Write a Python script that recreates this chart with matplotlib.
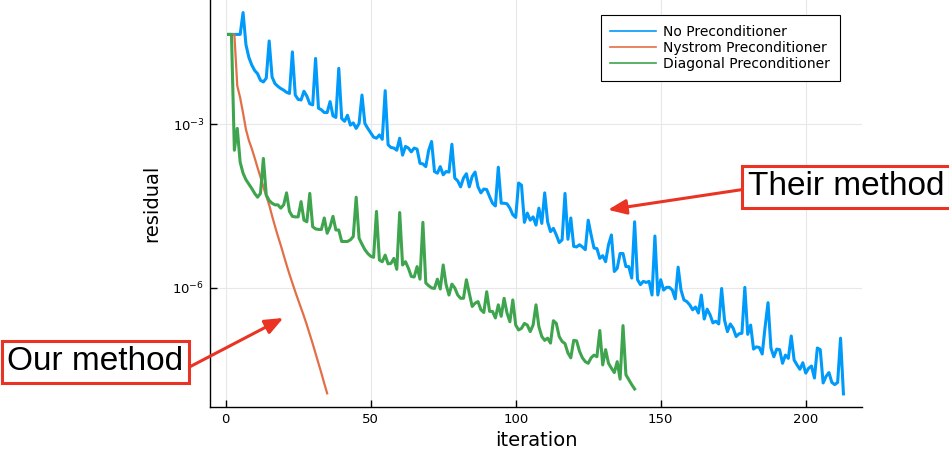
import numpy as np
import matplotlib.pyplot as plt

# log10 of the residual at every iteration, iterations counted from 1
log_res_none = [
    -1.36, -1.36, -1.36, -1.36, -1.36, -0.96, -1.55, -1.78, -1.92, -2.02,
    -2.08, -2.20, -2.23, -2.16, -1.48, -2.14, -2.26, -2.31, -2.35, -2.38,
    -2.42, -2.44, -1.68, -2.47, -2.55, -2.56, -2.40, -2.49, -2.63, -2.65,
    -1.80, -2.71, -2.74, -2.79, -2.79, -2.59, -2.85, -2.88, -1.98, -2.90,
    -2.95, -2.84, -3.02, -2.98, -3.08, -2.99, -2.47, -2.99, -3.08, -3.16,
    -3.24, -3.26, -3.20, -3.28, -2.39, -3.38, -3.43, -3.44, -3.48, -3.26,
    -3.57, -3.41, -3.44, -3.51, -3.44, -3.46, -3.72, -3.73, -3.78, -3.48,
    -3.32, -3.87, -3.90, -3.78, -3.93, -3.87, -3.88, -3.37, -3.99, -4.04,
    -4.15, -3.99, -3.91, -4.15, -3.96, -3.88, -4.15, -4.26, -4.19, -4.20,
    -4.33, -4.45, -4.50, -3.79, -4.45, -4.45, -4.46, -4.54, -4.66, -4.71,
    -4.08, -4.12, -4.80, -4.63, -4.76, -4.70, -4.85, -4.54, -4.82, -4.26,
    -4.79, -4.97, -4.91, -5.03, -5.17, -5.12, -4.27, -5.11, -4.72, -5.24,
    -5.25, -5.21, -5.25, -5.30, -4.76, -5.03, -5.27, -5.28, -5.46, -5.41,
    -5.52, -5.21, -5.03, -5.70, -5.64, -5.37, -5.37, -5.61, -5.61, -5.82,
    -4.79, -5.85, -5.94, -5.88, -5.90, -5.88, -6.13, -5.05, -6.13, -5.85,
    -6.04, -5.99, -5.99, -6.04, -6.20, -5.62, -6.04, -6.22, -6.25, -6.31,
    -6.40, -6.35, -6.46, -6.13, -6.57, -6.39, -6.49, -6.64, -6.61, -6.66,
    -6.01, -6.59, -6.80, -6.66, -6.74, -6.89, -6.84, -6.83, -5.99, -6.85,
    -6.68, -7.12, -7.08, -7.09, -7.21, -6.71, -6.27, -7.10, -7.26, -7.12,
    -7.13, -7.38, -7.23, -7.29, -6.88, -7.32, -7.41, -7.49, -7.37, -7.56,
    -7.47, -7.43, -7.65, -7.10, -7.13, -7.74, -7.62, -7.55, -7.73, -7.77,
    -7.73, -6.92, -7.94,
]
log_res_nystrom = [
    -1.36, -1.36, -1.36, -2.30, -2.52, -2.80, -3.10, -3.30, -3.45, -3.62,
    -3.80, -3.97, -4.15, -4.32, -4.48, -4.68, -4.87, -5.05, -5.22, -5.40,
    -5.58, -5.75, -5.91, -6.07, -6.22, -6.37, -6.52, -6.68, -6.85, -7.02,
    -7.20, -7.38, -7.56, -7.75, -7.93,
]
log_res_diag = [
    -1.36, -1.36, -3.48, -3.08, -3.70, -3.90, -4.02, -4.10, -4.18, -4.27,
    -4.34, -4.27, -3.63, -4.30, -4.40, -4.45, -4.48, -4.48, -4.54, -4.48,
    -4.26, -4.60, -4.69, -4.70, -4.70, -4.42, -4.76, -4.79, -4.27, -4.88,
    -4.92, -4.93, -4.93, -4.72, -5.00, -4.88, -4.69, -4.94, -4.94, -5.15,
    -5.15, -5.15, -5.12, -5.06, -4.34, -5.09, -5.20, -5.30, -5.37, -5.42,
    -5.44, -4.60, -5.49, -5.52, -5.40, -5.56, -5.55, -5.46, -5.66, -4.62,
    -5.58, -5.52, -5.64, -5.79, -5.80, -5.61, -5.84, -4.80, -5.91, -5.96,
    -6.00, -6.01, -5.84, -6.02, -5.58, -5.94, -6.13, -5.93, -6.00, -6.13,
    -6.19, -6.19, -5.85, -6.10, -6.34, -6.28, -6.25, -6.40, -6.45, -6.07,
    -6.43, -6.43, -6.55, -6.31, -6.52, -6.19, -6.46, -6.62, -6.22, -6.68,
    -6.77, -6.74, -6.65, -6.68, -6.80, -6.68, -6.31, -6.71, -6.89, -6.96,
    -6.92, -7.01, -6.60, -6.65, -6.89, -6.98, -7.02, -7.19, -7.28, -6.96,
    -6.97, -7.16, -7.28, -7.35, -7.38, -7.28, -7.23, -7.26, -6.78, -7.41,
    -7.13, -7.38, -7.47, -7.55, -7.35, -7.67, -6.69, -7.59, -7.68, -7.77,
    -7.85,
]

series_labels = ["No Preconditioner", "Nystrom Preconditioner", "Diagonal Preconditioner"]
series_colors = ["#009afa", "#e36f47", "#3ea44e"]
series_widths = [2.2, 1.6, 2.2]

x_ticks = [0, 50, 100, 150, 200]
y_ticks = [1e-3, 1e-6]

W, H = 949, 454  # taille de la figure en pixels (dpi 100)
RED = "#ea3323"
ANNOT_FONT = ["Liberation Sans", "DejaVu Sans"]


def px(x, y):
    """pixels image (origine en haut à gauche) -> fraction de figure"""
    return x / W, 1 - y / H


def callout(ax, text, center, tail, tip):
    # encadré rouge + flèche vers la courbe
    fig = ax.figure
    fig.text(*px(*center), text, ha="center", va="center", fontsize=24,
             family=ANNOT_FONT, color="black",
             bbox=dict(boxstyle="square,pad=0.17", fc="white", ec=RED, lw=2.2))
    ax.annotate("", xy=tip, xycoords="data",
                xytext=px(*tail), textcoords="figure fraction",
                arrowprops=dict(arrowstyle="-|>,head_length=1.1,head_width=0.45",
                                color=RED, lw=2.2, shrinkA=0, shrinkB=0),
                annotation_clip=False)


def main():
    fig = plt.figure(figsize=(W / 100, H / 100), dpi=100)
    ax = fig.add_axes([210 / W, 47 / H, 652 / W, 407 / H])

    all_series = [log_res_none, log_res_nystrom, log_res_diag]
    for vals, label, color, lw in zip(all_series, series_labels, series_colors, series_widths):
        it = np.arange(1, len(vals) + 1)
        ax.plot(it, 10.0 ** np.asarray(vals), color=color, lw=lw, label=label)

    ax.set_yscale("log")
    ax.set_xlim(-5.4, 219.4)
    ax.set_ylim(10 ** -8.18, 10 ** -0.73)
    ax.set_xticks(x_ticks)
    ax.set_yticks(y_ticks)
    ax.minorticks_off()
    ax.grid(True, color="#e8e8e8", lw=0.8)
    ax.set_axisbelow(True)

    for side in ("top", "right"):
        ax.spines[side].set_visible(False)
    for side in ("left", "bottom"):
        ax.spines[side].set_linewidth(1.0)
    ax.tick_params(direction="in", length=5, width=1.0, labelsize=9.5, pad=4)

    ax.set_xlabel("iteration", fontsize=14, labelpad=4)
    ax.set_ylabel("residual", fontsize=14, labelpad=8)

    leg = ax.legend(loc="upper right", bbox_to_anchor=(0.966, 0.963),
                    fontsize=10, frameon=True, fancybox=False, framealpha=1,
                    edgecolor="black", handlelength=3.3, handletextpad=0.5,
                    labelspacing=0.15, borderpad=0.7, borderaxespad=0)
    leg.get_frame().set_linewidth(0.8)
    for line in leg.get_lines():
        line.set_linewidth(1.2)

    callout(ax, "Our method", center=(95.5, 362), tail=(190, 366.7),
            tip=(19.9, 10 ** -6.55))
    callout(ax, "Their method", center=(846, 186.7), tail=(744, 189.3),
            tip=(131.8, 10 ** -4.57))

    fig.savefig("out.png", dpi=100)


if __name__ == "__main__":
    main()
